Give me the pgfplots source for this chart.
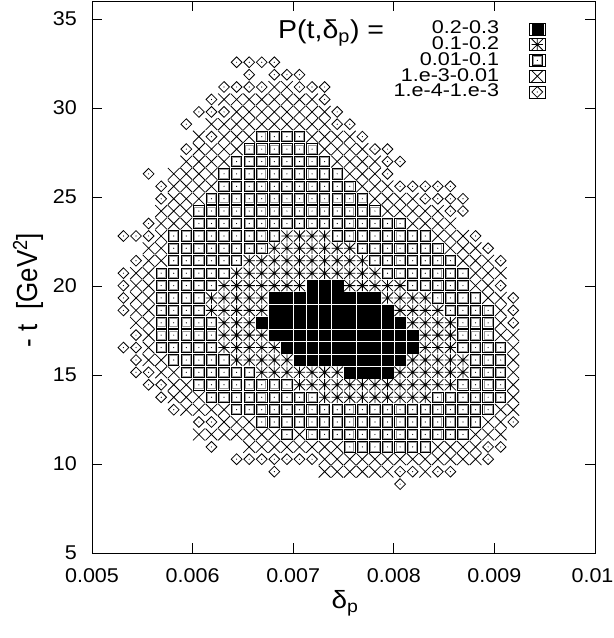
\documentclass[border=0pt]{standalone}
\usepackage{fontspec}
\setmainfont{Liberation Sans}
\usepackage{graphicx}
\usepackage{pgfplots}
\pgfplotsset{compat=1.18}
\usetikzlibrary{calc}

% the reference lettering is a little wider than Helvetica
\newcommand{\sx}[1]{\scalebox{1.08}[1]{#1}}
\newcommand{\lx}[1]{\scalebox{1.17}[1]{#1}}

% gnuplot-like point types
\pgfdeclareplotmark{gpbox}{%
  \pgfsetstrokecolor{black!40}%
  \pgfpathrectangle{\pgfpoint{-\pgfplotmarksize+1.1bp}{-\pgfplotmarksize+1.1bp}}{\pgfpoint{2\pgfplotmarksize-2.2bp}{2\pgfplotmarksize-2.2bp}}%
  \pgfusepathqstroke
  \pgfsetstrokecolor{black}%
  \pgfpathrectangle{\pgfqpoint{-\pgfplotmarksize}{-\pgfplotmarksize}}{\pgfqpoint{2\pgfplotmarksize}{2\pgfplotmarksize}}%
  \pgfusepathqstroke
  \pgfpathcircle{\pgfpointorigin}{0.6bp}\pgfusepathqfill}
\pgfdeclareplotmark{gpdiam}{%
  \pgfpathmoveto{\pgfqpoint{0pt}{\pgfplotmarksize}}%
  \pgfpathlineto{\pgfqpoint{\pgfplotmarksize}{0pt}}%
  \pgfpathlineto{\pgfqpoint{0pt}{-\pgfplotmarksize}}%
  \pgfpathlineto{\pgfqpoint{-\pgfplotmarksize}{0pt}}%
  \pgfpathclose\pgfusepathqstroke
  \pgfpathcircle{\pgfpointorigin}{0.6bp}\pgfusepathqfill}
\pgfdeclareplotmark{gpcross}{%
  \pgfpathmoveto{\pgfqpoint{-\pgfplotmarksize}{-\pgfplotmarksize}}%
  \pgfpathlineto{\pgfqpoint{\pgfplotmarksize}{\pgfplotmarksize}}%
  \pgfpathmoveto{\pgfqpoint{-\pgfplotmarksize}{\pgfplotmarksize}}%
  \pgfpathlineto{\pgfqpoint{\pgfplotmarksize}{-\pgfplotmarksize}}%
  \pgfusepathqstroke}
\pgfdeclareplotmark{gpstar}{%
  \pgfpathmoveto{\pgfqpoint{-\pgfplotmarksize}{-\pgfplotmarksize}}%
  \pgfpathlineto{\pgfqpoint{\pgfplotmarksize}{\pgfplotmarksize}}%
  \pgfpathmoveto{\pgfqpoint{-\pgfplotmarksize}{\pgfplotmarksize}}%
  \pgfpathlineto{\pgfqpoint{\pgfplotmarksize}{-\pgfplotmarksize}}%
  \pgfpathmoveto{\pgfqpoint{-\pgfplotmarksize}{0pt}}%
  \pgfpathlineto{\pgfqpoint{\pgfplotmarksize}{0pt}}%
  \pgfpathmoveto{\pgfqpoint{0pt}{-\pgfplotmarksize}}%
  \pgfpathlineto{\pgfqpoint{0pt}{\pgfplotmarksize}}%
  \pgfusepathqstroke}

\begin{document}
\begin{tikzpicture}
\begin{axis}[
  scale only axis, width=503bp, height=551.8bp,
  xmin=0.005, xmax=0.01, ymin=5, ymax=36,
  xtick={0.005,0.006,0.007,0.008,0.009,0.01},
  xticklabels={\sx{0.005},\sx{0.006},\sx{0.007},\sx{0.008},\sx{0.009},\hspace*{-5bp}\sx{0.01}},
  ytick={5,10,15,20,25,30,35},
  yticklabels={\sx{5},\sx{10},\sx{15},\sx{20},\sx{25},\sx{30},\sx{35}},
  scaled x ticks=false,
  tick align=inside, major tick length=10bp,
  axis line style={line width=0.9bp},
  tick style={black, line width=0.9bp},
  ticklabel style={font=\fontsize{20}{22}\selectfont, inner sep=0pt},
  yticklabel style={xshift=-15bp},
  xticklabel style={yshift=-15bp},
  xlabel={\scalebox{1.12}[1]{δ\textsubscript{p}}},
  ylabel={\scalebox{1}[1.12]{- t\ \ [GeV\textsuperscript{2}]}},
  every axis x label/.style={at={(axis description cs:0.503,-0.0906)}, anchor=center,
    font=\fontsize{25}{28}\selectfont},
  every axis y label/.style={at={(axis description cs:-0.127,0.4766)}, rotate=90, anchor=center,
    font=\fontsize{26}{28}\selectfont},
  legend style={at={(axis description cs:0.902,0.9647)}, anchor=north east,
    draw=none, fill=none, inner sep=0pt, row sep=0pt,
    font=\fontsize{18.5}{18.5}\selectfont,
    nodes={inner sep=0pt, text height=12.9bp, text depth=2.9bp},
    /tikz/every odd column/.append style={column sep=30bp}},
  legend plot pos=right, legend cell align=right,
  legend image code/.code={\path (-8bp,-6bp) rectangle (8bp,6bp); \draw[#1] plot coordinates {(0bp,0bp)};},
]

% P = 0.2-0.3
\addplot[only marks, mark=square*, mark size=5.4bp, mark options={fill=black, draw=black, line width=0.2bp}]
table[row sep=\\]{x y\\
0.0071875 20.02\\ 0.0073125 20.02\\ 0.0074375 20.02\\
0.0068125 19.33\\ 0.0069375 19.33\\ 0.0070625 19.33\\ 0.0071875 19.33\\ 0.0073125 19.33\\ 0.0074375 19.33\\ 0.0075625 19.33\\ 0.0076875 19.33\\ 0.0078125 19.33\\
0.0068125 18.63\\ 0.0069375 18.63\\ 0.0070625 18.63\\ 0.0071875 18.63\\ 0.0073125 18.63\\ 0.0074375 18.63\\ 0.0075625 18.63\\ 0.0076875 18.63\\ 0.0078125 18.63\\ 0.0079375 18.63\\
0.0066875 17.93\\ 0.0068125 17.93\\ 0.0069375 17.93\\ 0.0070625 17.93\\ 0.0071875 17.93\\ 0.0073125 17.93\\ 0.0074375 17.93\\ 0.0075625 17.93\\ 0.0076875 17.93\\ 0.0078125 17.93\\ 0.0079375 17.93\\ 0.0080625 17.93\\
0.0068125 17.24\\ 0.0069375 17.24\\ 0.0070625 17.24\\ 0.0071875 17.24\\ 0.0073125 17.24\\ 0.0074375 17.24\\ 0.0075625 17.24\\ 0.0076875 17.24\\ 0.0078125 17.24\\ 0.0079375 17.24\\ 0.0080625 17.24\\ 0.0081875 17.24\\
0.0069375 16.54\\ 0.0070625 16.54\\ 0.0071875 16.54\\ 0.0073125 16.54\\ 0.0074375 16.54\\ 0.0075625 16.54\\ 0.0076875 16.54\\ 0.0078125 16.54\\ 0.0079375 16.54\\ 0.0080625 16.54\\ 0.0081875 16.54\\
0.0070625 15.84\\ 0.0071875 15.84\\ 0.0073125 15.84\\ 0.0074375 15.84\\ 0.0075625 15.84\\ 0.0076875 15.84\\ 0.0078125 15.84\\ 0.0079375 15.84\\ 0.0080625 15.84\\
0.0075625 15.15\\ 0.0076875 15.15\\ 0.0078125 15.15\\ 0.0079375 15.15\\
};
\addlegendentry{\lx{0.2-0.3}}

% P = 0.1-0.2
\addplot[only marks, mark=gpstar, mark size=5.6bp, mark options={black, line width=0.8bp}]
table[row sep=\\]{x y\\
0.0069375 22.81\\ 0.0070625 22.81\\ 0.0071875 22.81\\ 0.0073125 22.81\\
0.0068125 22.12\\ 0.0069375 22.12\\ 0.0070625 22.12\\ 0.0071875 22.12\\ 0.0073125 22.12\\ 0.0074375 22.12\\ 0.0075625 22.12\\
0.0065625 21.42\\ 0.0066875 21.42\\ 0.0068125 21.42\\ 0.0069375 21.42\\ 0.0070625 21.42\\ 0.0071875 21.42\\ 0.0073125 21.42\\ 0.0074375 21.42\\ 0.0075625 21.42\\ 0.0076875 21.42\\
0.0064375 20.72\\ 0.0065625 20.72\\ 0.0066875 20.72\\ 0.0068125 20.72\\ 0.0069375 20.72\\ 0.0070625 20.72\\ 0.0071875 20.72\\ 0.0073125 20.72\\ 0.0074375 20.72\\ 0.0075625 20.72\\ 0.0076875 20.72\\ 0.0078125 20.72\\
0.0063125 20.02\\ 0.0064375 20.02\\ 0.0065625 20.02\\ 0.0066875 20.02\\ 0.0068125 20.02\\ 0.0069375 20.02\\ 0.0070625 20.02\\ 0.0075625 20.02\\ 0.0076875 20.02\\ 0.0078125 20.02\\ 0.0079375 20.02\\ 0.0080625 20.02\\
0.0061875 19.33\\ 0.0063125 19.33\\ 0.0064375 19.33\\ 0.0065625 19.33\\ 0.0066875 19.33\\ 0.0079375 19.33\\ 0.0080625 19.33\\ 0.0081875 19.33\\ 0.0083125 19.33\\
0.0061875 18.63\\ 0.0063125 18.63\\ 0.0064375 18.63\\ 0.0065625 18.63\\ 0.0066875 18.63\\ 0.0080625 18.63\\ 0.0081875 18.63\\ 0.0083125 18.63\\ 0.0084375 18.63\\
0.0063125 17.93\\ 0.0064375 17.93\\ 0.0065625 17.93\\ 0.0081875 17.93\\ 0.0083125 17.93\\ 0.0084375 17.93\\ 0.0085625 17.93\\
0.0063125 17.24\\ 0.0064375 17.24\\ 0.0065625 17.24\\ 0.0066875 17.24\\ 0.0083125 17.24\\ 0.0084375 17.24\\ 0.0085625 17.24\\
0.0063125 16.54\\ 0.0064375 16.54\\ 0.0065625 16.54\\ 0.0066875 16.54\\ 0.0068125 16.54\\ 0.0083125 16.54\\ 0.0084375 16.54\\ 0.0085625 16.54\\
0.0064375 15.84\\ 0.0065625 15.84\\ 0.0066875 15.84\\ 0.0068125 15.84\\ 0.0069375 15.84\\ 0.0081875 15.84\\ 0.0083125 15.84\\ 0.0084375 15.84\\ 0.0085625 15.84\\ 0.0086875 15.84\\
0.0066875 15.15\\ 0.0068125 15.15\\ 0.0069375 15.15\\ 0.0070625 15.15\\ 0.0071875 15.15\\ 0.0073125 15.15\\ 0.0074375 15.15\\ 0.0080625 15.15\\ 0.0081875 15.15\\ 0.0083125 15.15\\ 0.0084375 15.15\\ 0.0085625 15.15\\ 0.0086875 15.15\\
0.0070625 14.45\\ 0.0071875 14.45\\ 0.0073125 14.45\\ 0.0074375 14.45\\ 0.0075625 14.45\\ 0.0076875 14.45\\ 0.0078125 14.45\\ 0.0079375 14.45\\ 0.0080625 14.45\\ 0.0081875 14.45\\ 0.0083125 14.45\\ 0.0084375 14.45\\ 0.0085625 14.45\\
0.0073125 13.75\\ 0.0074375 13.75\\ 0.0075625 13.75\\ 0.0076875 13.75\\ 0.0078125 13.75\\ 0.0079375 13.75\\ 0.0080625 13.75\\ 0.0081875 13.75\\ 0.0083125 13.75\\
};
\addlegendentry{\lx{0.1-0.2}}

% P = 0.01-0.1
\addplot[only marks, mark=gpbox, mark size=5.2bp, mark options={black, line width=0.9bp}]
table[row sep=\\]{x y\\
0.0066875 28.39\\ 0.0068125 28.39\\ 0.0069375 28.39\\ 0.0070625 28.39\\
0.0065625 27.69\\ 0.0066875 27.69\\ 0.0068125 27.69\\ 0.0069375 27.69\\ 0.0070625 27.69\\ 0.0071875 27.69\\
0.0064375 26.99\\ 0.0065625 26.99\\ 0.0066875 26.99\\ 0.0068125 26.99\\ 0.0069375 26.99\\ 0.0070625 26.99\\ 0.0071875 26.99\\ 0.0073125 26.99\\
0.0063125 26.30\\ 0.0064375 26.30\\ 0.0065625 26.30\\ 0.0066875 26.30\\ 0.0068125 26.30\\ 0.0069375 26.30\\ 0.0070625 26.30\\ 0.0071875 26.30\\ 0.0073125 26.30\\ 0.0074375 26.30\\
0.0063125 25.60\\ 0.0064375 25.60\\ 0.0065625 25.60\\ 0.0066875 25.60\\ 0.0068125 25.60\\ 0.0069375 25.60\\ 0.0070625 25.60\\ 0.0071875 25.60\\ 0.0073125 25.60\\ 0.0074375 25.60\\ 0.0075625 25.60\\
0.0061875 24.90\\ 0.0063125 24.90\\ 0.0064375 24.90\\ 0.0065625 24.90\\ 0.0066875 24.90\\ 0.0068125 24.90\\ 0.0069375 24.90\\ 0.0070625 24.90\\ 0.0071875 24.90\\ 0.0073125 24.90\\ 0.0074375 24.90\\ 0.0075625 24.90\\ 0.0076875 24.90\\
0.0060625 24.21\\ 0.0061875 24.21\\ 0.0063125 24.21\\ 0.0064375 24.21\\ 0.0065625 24.21\\ 0.0066875 24.21\\ 0.0068125 24.21\\ 0.0069375 24.21\\ 0.0070625 24.21\\ 0.0071875 24.21\\ 0.0073125 24.21\\ 0.0074375 24.21\\ 0.0075625 24.21\\ 0.0076875 24.21\\ 0.0078125 24.21\\
0.0060625 23.51\\ 0.0061875 23.51\\ 0.0063125 23.51\\ 0.0064375 23.51\\ 0.0065625 23.51\\ 0.0066875 23.51\\ 0.0068125 23.51\\ 0.0069375 23.51\\ 0.0070625 23.51\\ 0.0071875 23.51\\ 0.0073125 23.51\\ 0.0074375 23.51\\ 0.0075625 23.51\\ 0.0076875 23.51\\ 0.0078125 23.51\\ 0.0079375 23.51\\ 0.0080625 23.51\\
0.0058125 22.81\\ 0.0059375 22.81\\ 0.0060625 22.81\\ 0.0061875 22.81\\ 0.0063125 22.81\\ 0.0064375 22.81\\ 0.0065625 22.81\\ 0.0066875 22.81\\ 0.0068125 22.81\\ 0.0074375 22.81\\ 0.0075625 22.81\\ 0.0076875 22.81\\ 0.0078125 22.81\\ 0.0079375 22.81\\ 0.0080625 22.81\\ 0.0081875 22.81\\ 0.0083125 22.81\\
0.0058125 22.12\\ 0.0059375 22.12\\ 0.0060625 22.12\\ 0.0061875 22.12\\ 0.0063125 22.12\\ 0.0064375 22.12\\ 0.0065625 22.12\\ 0.0066875 22.12\\ 0.0076875 22.12\\ 0.0078125 22.12\\ 0.0079375 22.12\\ 0.0080625 22.12\\ 0.0081875 22.12\\ 0.0083125 22.12\\ 0.0084375 22.12\\
0.0058125 21.42\\ 0.0059375 21.42\\ 0.0060625 21.42\\ 0.0061875 21.42\\ 0.0063125 21.42\\ 0.0064375 21.42\\ 0.0078125 21.42\\ 0.0079375 21.42\\ 0.0080625 21.42\\ 0.0081875 21.42\\ 0.0083125 21.42\\ 0.0084375 21.42\\ 0.0085625 21.42\\
0.0056875 20.72\\ 0.0058125 20.72\\ 0.0059375 20.72\\ 0.0060625 20.72\\ 0.0061875 20.72\\ 0.0063125 20.72\\ 0.0079375 20.72\\ 0.0080625 20.72\\ 0.0081875 20.72\\ 0.0083125 20.72\\ 0.0084375 20.72\\ 0.0085625 20.72\\ 0.0086875 20.72\\
0.0056875 20.02\\ 0.0058125 20.02\\ 0.0059375 20.02\\ 0.0060625 20.02\\ 0.0061875 20.02\\ 0.0081875 20.02\\ 0.0083125 20.02\\ 0.0084375 20.02\\ 0.0085625 20.02\\ 0.0086875 20.02\\
0.0056875 19.33\\ 0.0058125 19.33\\ 0.0059375 19.33\\ 0.0060625 19.33\\ 0.0084375 19.33\\ 0.0085625 19.33\\ 0.0086875 19.33\\ 0.0088125 19.33\\
0.0056875 18.63\\ 0.0058125 18.63\\ 0.0059375 18.63\\ 0.0060625 18.63\\ 0.0085625 18.63\\ 0.0086875 18.63\\ 0.0088125 18.63\\ 0.0089375 18.63\\
0.0056875 17.93\\ 0.0058125 17.93\\ 0.0059375 17.93\\ 0.0060625 17.93\\ 0.0061875 17.93\\ 0.0086875 17.93\\ 0.0088125 17.93\\ 0.0089375 17.93\\
0.0056875 17.24\\ 0.0058125 17.24\\ 0.0059375 17.24\\ 0.0060625 17.24\\ 0.0061875 17.24\\ 0.0086875 17.24\\ 0.0088125 17.24\\ 0.0089375 17.24\\
0.0056875 16.54\\ 0.0058125 16.54\\ 0.0059375 16.54\\ 0.0060625 16.54\\ 0.0061875 16.54\\ 0.0086875 16.54\\ 0.0088125 16.54\\ 0.0089375 16.54\\ 0.0090625 16.54\\
0.0058125 15.84\\ 0.0059375 15.84\\ 0.0060625 15.84\\ 0.0061875 15.84\\ 0.0063125 15.84\\ 0.0088125 15.84\\ 0.0089375 15.84\\ 0.0090625 15.84\\
0.0059375 15.15\\ 0.0060625 15.15\\ 0.0061875 15.15\\ 0.0063125 15.15\\ 0.0064375 15.15\\ 0.0065625 15.15\\ 0.0088125 15.15\\ 0.0089375 15.15\\ 0.0090625 15.15\\
0.0060625 14.45\\ 0.0061875 14.45\\ 0.0063125 14.45\\ 0.0064375 14.45\\ 0.0065625 14.45\\ 0.0066875 14.45\\ 0.0068125 14.45\\ 0.0069375 14.45\\ 0.0086875 14.45\\ 0.0088125 14.45\\ 0.0089375 14.45\\ 0.0090625 14.45\\
0.0061875 13.75\\ 0.0063125 13.75\\ 0.0064375 13.75\\ 0.0065625 13.75\\ 0.0066875 13.75\\ 0.0068125 13.75\\ 0.0069375 13.75\\ 0.0070625 13.75\\ 0.0071875 13.75\\ 0.0084375 13.75\\ 0.0085625 13.75\\ 0.0086875 13.75\\ 0.0088125 13.75\\ 0.0089375 13.75\\ 0.0090625 13.75\\
0.0064375 13.05\\ 0.0065625 13.05\\ 0.0066875 13.05\\ 0.0068125 13.05\\ 0.0069375 13.05\\ 0.0070625 13.05\\ 0.0071875 13.05\\ 0.0073125 13.05\\ 0.0074375 13.05\\ 0.0075625 13.05\\ 0.0076875 13.05\\ 0.0078125 13.05\\ 0.0079375 13.05\\ 0.0080625 13.05\\ 0.0081875 13.05\\ 0.0083125 13.05\\ 0.0084375 13.05\\ 0.0085625 13.05\\ 0.0086875 13.05\\ 0.0088125 13.05\\ 0.0089375 13.05\\
0.0066875 12.36\\ 0.0068125 12.36\\ 0.0069375 12.36\\ 0.0070625 12.36\\ 0.0071875 12.36\\ 0.0073125 12.36\\ 0.0074375 12.36\\ 0.0075625 12.36\\ 0.0076875 12.36\\ 0.0078125 12.36\\ 0.0079375 12.36\\ 0.0080625 12.36\\ 0.0081875 12.36\\ 0.0083125 12.36\\ 0.0084375 12.36\\ 0.0085625 12.36\\ 0.0086875 12.36\\ 0.0088125 12.36\\
0.0069375 11.66\\ 0.0071875 11.66\\ 0.0073125 11.66\\ 0.0074375 11.66\\ 0.0075625 11.66\\ 0.0076875 11.66\\ 0.0078125 11.66\\ 0.0079375 11.66\\ 0.0080625 11.66\\ 0.0081875 11.66\\ 0.0083125 11.66\\ 0.0084375 11.66\\ 0.0085625 11.66\\ 0.0086875 11.66\\
0.0075625 10.96\\ 0.0076875 10.96\\ 0.0078125 10.96\\ 0.0079375 10.96\\ 0.0080625 10.96\\ 0.0081875 10.96\\ 0.0083125 10.96\\
};
\addlegendentry{\lx{0.01-0.1}}

% P = 1e-3 - 0.01
\addplot[only marks, mark=gpcross, mark size=5.9bp, mark options={black, line width=0.8bp}]
table[row sep=\\]{x y\\
0.0068125 31.18\\ 0.0069375 31.18\\
0.0063125 30.48\\ 0.0064375 30.48\\ 0.0065625 30.48\\ 0.0066875 30.48\\ 0.0068125 30.48\\ 0.0069375 30.48\\ 0.0070625 30.48\\ 0.0071875 30.48\\
0.0064375 29.78\\ 0.0065625 29.78\\ 0.0066875 29.78\\ 0.0068125 29.78\\ 0.0069375 29.78\\ 0.0070625 29.78\\ 0.0071875 29.78\\ 0.0073125 29.78\\
0.0061875 29.09\\ 0.0063125 29.09\\ 0.0064375 29.09\\ 0.0065625 29.09\\ 0.0066875 29.09\\ 0.0068125 29.09\\ 0.0069375 29.09\\ 0.0070625 29.09\\ 0.0071875 29.09\\ 0.0073125 29.09\\
0.0060625 28.39\\ 0.0063125 28.39\\ 0.0064375 28.39\\ 0.0065625 28.39\\ 0.0071875 28.39\\ 0.0073125 28.39\\ 0.0074375 28.39\\ 0.0075625 28.39\\
0.0060625 27.69\\ 0.0061875 27.69\\ 0.0063125 27.69\\ 0.0064375 27.69\\ 0.0073125 27.69\\ 0.0074375 27.69\\ 0.0075625 27.69\\ 0.0076875 27.69\\
0.0059375 26.99\\ 0.0060625 26.99\\ 0.0061875 26.99\\ 0.0063125 26.99\\ 0.0074375 26.99\\ 0.0075625 26.99\\ 0.0076875 26.99\\ 0.0078125 26.99\\
0.0058125 26.30\\ 0.0059375 26.30\\ 0.0060625 26.30\\ 0.0061875 26.30\\ 0.0075625 26.30\\ 0.0076875 26.30\\ 0.0078125 26.30\\
0.0058125 25.60\\ 0.0059375 25.60\\ 0.0060625 25.60\\ 0.0061875 25.60\\ 0.0076875 25.60\\ 0.0078125 25.60\\ 0.0079375 25.60\\
0.0058125 24.90\\ 0.0059375 24.90\\ 0.0060625 24.90\\ 0.0078125 24.90\\ 0.0079375 24.90\\ 0.0080625 24.90\\ 0.0081875 24.90\\
0.0056875 24.21\\ 0.0058125 24.21\\ 0.0059375 24.21\\ 0.0079375 24.21\\ 0.0080625 24.21\\ 0.0081875 24.21\\ 0.0083125 24.21\\ 0.0084375 24.21\\
0.0056875 23.51\\ 0.0058125 23.51\\ 0.0059375 23.51\\ 0.0081875 23.51\\ 0.0083125 23.51\\ 0.0084375 23.51\\ 0.0085625 23.51\\
0.0056875 22.81\\ 0.0084375 22.81\\ 0.0085625 22.81\\ 0.0086875 22.81\\
0.0055625 22.12\\ 0.0056875 22.12\\ 0.0085625 22.12\\ 0.0086875 22.12\\ 0.0088125 22.12\\
0.0055625 21.42\\ 0.0056875 21.42\\ 0.0086875 21.42\\ 0.0088125 21.42\\ 0.0089375 21.42\\
0.0054375 20.72\\ 0.0055625 20.72\\ 0.0088125 20.72\\ 0.0089375 20.72\\ 0.0090625 20.72\\
0.0054375 20.02\\ 0.0055625 20.02\\ 0.0088125 20.02\\ 0.0089375 20.02\\
0.0054375 19.33\\ 0.0055625 19.33\\ 0.0089375 19.33\\ 0.0090625 19.33\\
0.0054375 18.63\\ 0.0055625 18.63\\ 0.0090625 18.63\\
0.0054375 17.93\\ 0.0055625 17.93\\ 0.0090625 17.93\\
0.0055625 17.24\\ 0.0090625 17.24\\ 0.0091875 17.24\\
0.0055625 16.54\\ 0.0091875 16.54\\
0.0055625 15.84\\ 0.0056875 15.84\\ 0.0091875 15.84\\
0.0056875 15.15\\ 0.0058125 15.15\\ 0.0091875 15.15\\
0.0058125 14.45\\ 0.0059375 14.45\\ 0.0091875 14.45\\
0.0058125 13.75\\ 0.0059375 13.75\\ 0.0060625 13.75\\ 0.0091875 13.75\\
0.0059375 13.05\\ 0.0060625 13.05\\ 0.0061875 13.05\\ 0.0063125 13.05\\ 0.0090625 13.05\\ 0.0091875 13.05\\
0.0063125 12.36\\ 0.0064375 12.36\\ 0.0065625 12.36\\ 0.0089375 12.36\\ 0.0090625 12.36\\
0.0060625 11.66\\ 0.0061875 11.66\\ 0.0063125 11.66\\ 0.0064375 11.66\\ 0.0065625 11.66\\ 0.0066875 11.66\\ 0.0068125 11.66\\ 0.0070625 11.66\\ 0.0088125 11.66\\ 0.0089375 11.66\\ 0.0090625 11.66\\
0.0065625 10.96\\ 0.0066875 10.96\\ 0.0068125 10.96\\ 0.0069375 10.96\\ 0.0070625 10.96\\ 0.0071875 10.96\\ 0.0073125 10.96\\ 0.0074375 10.96\\ 0.0084375 10.96\\ 0.0085625 10.96\\ 0.0086875 10.96\\ 0.0088125 10.96\\
0.0073125 10.27\\ 0.0074375 10.27\\ 0.0075625 10.27\\ 0.0076875 10.27\\ 0.0078125 10.27\\ 0.0079375 10.27\\ 0.0080625 10.27\\ 0.0081875 10.27\\ 0.0083125 10.27\\ 0.0084375 10.27\\ 0.0085625 10.27\\ 0.0086875 10.27\\ 0.0088125 10.27\\
0.0073125 9.57\\ 0.0074375 9.57\\ 0.0075625 9.57\\ 0.0076875 9.57\\ 0.0078125 9.57\\ 0.0079375 9.57\\ 0.0083125 9.57\\
};
\addlegendentry{\lx{1.e-3-0.01}}

% P = 1e-4 - 1e-3
\addplot[only marks, mark=gpdiam, mark size=5.4bp, mark options={black, line width=0.8bp}]
table[row sep=\\]{x y\\
0.0064375 32.57\\ 0.0065625 32.57\\ 0.0066875 32.57\\ 0.0068125 32.57\\
0.0065625 31.87\\ 0.0068125 31.87\\ 0.0069375 31.87\\ 0.0070625 31.87\\
0.0063125 31.18\\ 0.0064375 31.18\\ 0.0065625 31.18\\ 0.0066875 31.18\\ 0.0070625 31.18\\ 0.0071875 31.18\\ 0.0073125 31.18\\
0.0061875 30.48\\ 0.0073125 30.48\\
0.0060625 29.78\\ 0.0061875 29.78\\ 0.0063125 29.78\\ 0.0074375 29.78\\
0.0059375 29.09\\ 0.0074375 29.09\\ 0.0075625 29.09\\
0.0061875 28.39\\ 0.0076875 28.39\\
0.0059375 27.69\\ 0.0078125 27.69\\ 0.0079375 27.69\\
0.0079375 26.99\\ 0.0080625 26.99\\
0.0055625 26.30\\ 0.0079375 26.30\\
0.0056875 25.60\\ 0.0080625 25.60\\ 0.0081875 25.60\\ 0.0083125 25.60\\ 0.0084375 25.60\\ 0.0085625 25.60\\
0.0056875 24.90\\ 0.0083125 24.90\\ 0.0084375 24.90\\ 0.0085625 24.90\\ 0.0086875 24.90\\
0.0085625 24.21\\ 0.0086875 24.21\\
0.0055625 23.51\\
0.0053125 22.81\\ 0.0054375 22.81\\ 0.0055625 22.81\\ 0.0088125 22.81\\
0.0089375 22.12\\
0.0054375 21.42\\ 0.0090625 21.42\\
0.0053125 20.72\\
0.0053125 20.02\\ 0.0090625 20.02\\
0.0053125 19.33\\ 0.0091875 19.33\\
0.0053125 18.63\\ 0.0091875 18.63\\
0.0091875 17.93\\
0.0054375 17.24\\
0.0053125 16.54\\ 0.0054375 16.54\\
0.0054375 15.84\\
0.0054375 15.15\\ 0.0055625 15.15\\
0.0055625 14.45\\ 0.0056875 14.45\\
0.0056875 13.75\\
0.0058125 13.05\\
0.0060625 12.36\\ 0.0061875 12.36\\ 0.0091875 12.36\\
0.0061875 10.96\\ 0.0089375 10.96\\ 0.0090625 10.96\\
0.0064375 10.27\\ 0.0065625 10.27\\ 0.0066875 10.27\\ 0.0068125 10.27\\ 0.0069375 10.27\\ 0.0070625 10.27\\ 0.0071875 10.27\\ 0.0089375 10.27\\
0.0068125 9.57\\ 0.0080625 9.57\\ 0.0081875 9.57\\ 0.0084375 9.57\\ 0.0085625 9.57\\
0.0080625 8.87\\
};
\addlegendentry{\lx{1.e-4-1.e-3}}

\node[anchor=base west, font=\fontsize{26}{28}\selectfont, inner sep=0pt]
  at (axis cs:0.006849,33.88) {\scalebox{1.1}[1]{P(t,δ\textsubscript{p}) =}};
\end{axis}
\pgfresetboundingbox
\path ($(current axis.south west)+(-92bp,-85bp)$) rectangle ($(current axis.north east)+(19bp,1.2bp)$);
\end{tikzpicture}
\end{document}
